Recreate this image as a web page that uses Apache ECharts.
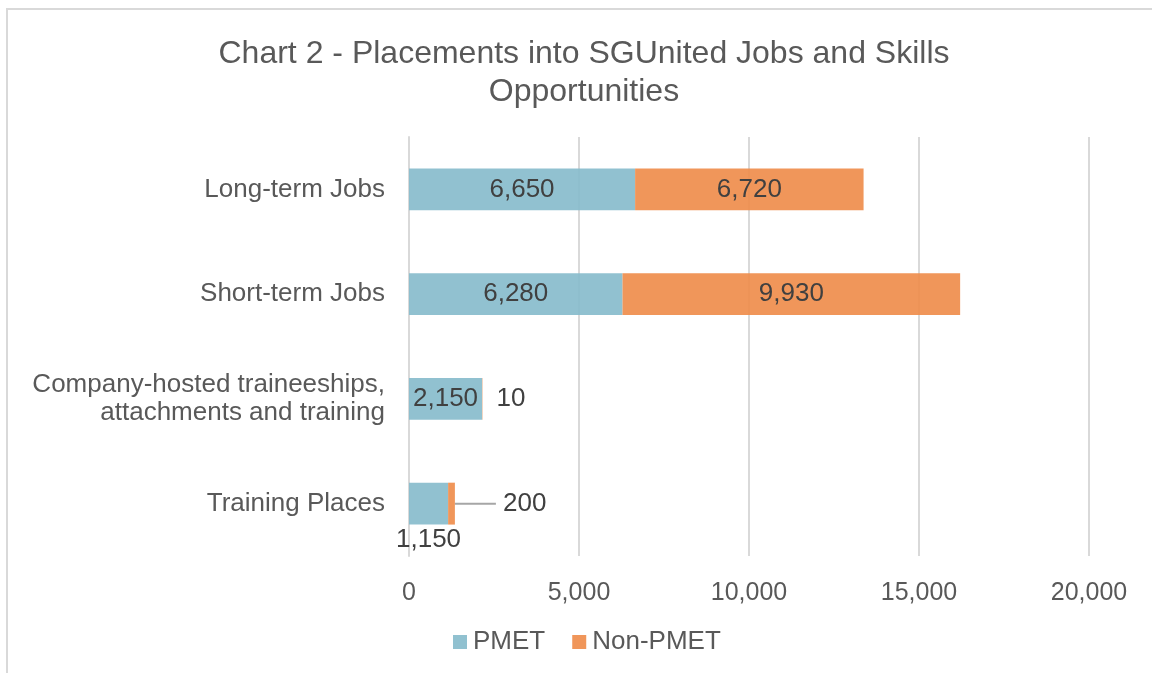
<!DOCTYPE html>
<html>
<head>
<meta charset="utf-8">
<script src="https://cdn.jsdelivr.net/npm/echarts@6/dist/echarts.min.js"></script>
<style>
  html, body { margin: 0; padding: 0; background: #fff; }
  #main { width: 1152px; height: 673px; }
</style>
</head>
<body>
<div id="main"></div>
<script>
var categories = ['Long-term Jobs', 'Short-term Jobs', 'Company-hosted traineeships,\nattachments and training', 'Training Places'];
var pmet = [6650, 6280, 2150, 1150];
var nonPmet = [6720, 9930, 10, 200];
var xTicks = [0, 5000, 10000, 15000, 20000];

var myChart = echarts.init(document.getElementById('main'));

function fmt(v) {
    return v.toLocaleString('en-US');
}

// label tweaks for the small bars
var pmetData = pmet.map(function (v, i) {
    if (i === 3) {
        return {value: v, label: {position: 'bottom', distance: 2}};
    }
    return v;
});
var nonPmetData = nonPmet.map(function (v, i) {
    if (i === 2) {
        return {value: v, label: {position: 'right', distance: 14}};
    }
    if (i === 3) {
        // leading space leaves a small gap between leader line and text
        return {
            value: v,
            label: {position: 'right', distance: 6, formatter: function (p) { return ' ' + fmt(p.value); }},
            labelLine: {show: true}
        };
    }
    return v;
});

var option = {
    textStyle: {fontFamily: 'Liberation Sans, Arial, sans-serif'},
    title: {
        text: 'Chart 2 - Placements into SGUnited Jobs and Skills\nOpportunities',
        left: 579,
        textAlign: 'center',
        top: 30,
        textStyle: {
            fontSize: 32,
            fontWeight: 'normal',
            color: '#595959',
            lineHeight: 38
        }
    },
    graphic: [{
        type: 'rect',
        shape: {x: 7, y: 9, width: 1170, height: 690},
        style: {fill: 'none', stroke: '#d9d9d9', lineWidth: 2},
        silent: true
    }],
    legend: {
        bottom: 13,
        left: 448,
        itemWidth: 14,
        itemHeight: 14,
        itemGap: 27,
        icon: 'rect',
        textStyle: {fontSize: 26, color: '#595959', padding: [0, 0, 0, 1]},
        data: ['PMET', 'Non-PMET']
    },
    grid: {
        left: 409,
        right: 63,
        top: 137,
        bottom: 117
    },
    xAxis: {
        type: 'value',
        min: xTicks[0],
        max: xTicks[xTicks.length - 1],
        interval: 5000,
        axisLine: {show: false},
        axisTick: {show: false},
        axisLabel: {
            fontSize: 25,
            color: '#595959',
            margin: 25,
            formatter: function (v) { return fmt(v); }
        },
        splitLine: {lineStyle: {color: '#d9d9d9', width: 2}}
    },
    yAxis: {
        type: 'category',
        inverse: true,
        data: categories,
        axisLine: {show: true, lineStyle: {color: '#d9d9d9', width: 2}},
        axisTick: {show: false},
        axisLabel: {
            fontSize: 26,
            color: '#595959',
            margin: 24,
            lineHeight: 28,
            align: 'right'
        }
    },
    series: [
        {
            name: 'PMET',
            type: 'bar',
            stack: 'total',
            barWidth: '40%',
            itemStyle: {color: 'rgba(133,186,203,0.9)'},
            label: {
                show: true,
                position: 'inside',
                fontSize: 26,
                color: '#404040',
                formatter: function (p) { return fmt(p.value); }
            },
            data: pmetData
        },
        {
            name: 'Non-PMET',
            type: 'bar',
            stack: 'total',
            barWidth: '40%',
            itemStyle: {color: 'rgba(238,139,72,0.9)'},
            label: {
                show: true,
                position: 'inside',
                fontSize: 26,
                color: '#404040',
                formatter: function (p) { return fmt(p.value); }
            },
            labelLine: {show: false, lineStyle: {color: '#a6a6a6', width: 2}},
            labelLayout: function (p) {
                if (p.dataIndex === 3) {
                    return {dx: 35};
                }
                return {};
            },
            data: nonPmetData
        }
    ]
};

myChart.setOption(option);
</script>
</body>
</html>
